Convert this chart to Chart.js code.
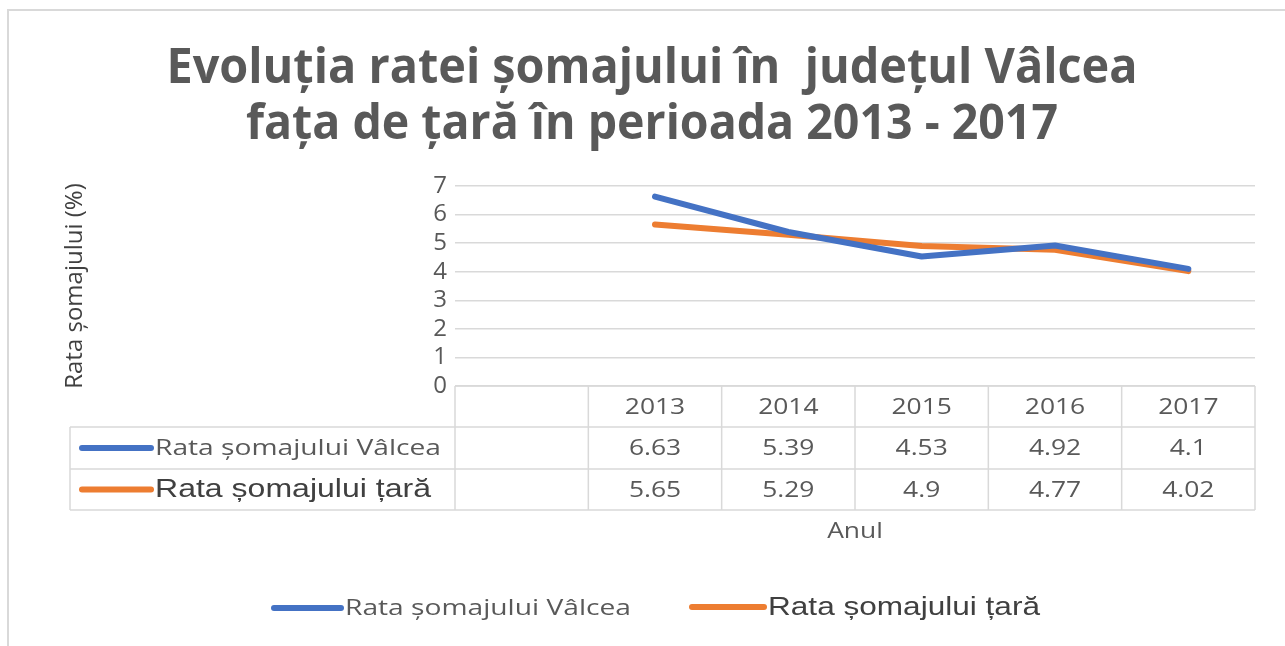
<!DOCTYPE html>
<html>
<head>
<meta charset="utf-8">
<script src="https://cdn.jsdelivr.net/npm/chart.js@4.4.0/dist/chart.umd.min.js"></script>
<style>
    html, body { margin: 0; padding: 0; background: #fff; overflow: hidden; }
    #wrap { width: 1285px; height: 646px; }
</style>
</head>
<body>
<div id="wrap"><canvas id="somajChart" width="1285" height="646"></canvas></div>
<script>
// ========== DATE ==========
const categorii = ['', '2013', '2014', '2015', '2016', '2017'];
const rataValcea = [null, 6.63, 5.39, 4.53, 4.92, 4.1];
const rataTara = [null, 5.65, 5.29, 4.9, 4.77, 4.02];
const titluRanduri = ['Evoluția ratei șomajului în  județul Vâlcea', 'fața de țară în perioada 2013 - 2017'];
const etichetaY = 'Rata șomajului (%)';
const etichetaX = 'Anul';

const ALBASTRU = '#4472c4';
const PORTOCALIU = '#ed7d31';
const GRI_TEXT = '#595959';
const GRI_LINIE = '#d9d9d9';
const FONT = '"Open Sans", sans-serif';
const FONT_ARIAL = '"Liberation Sans", Arial, sans-serif';

// scrie text intins pe orizontala (sx) sau pana la o latime data (w)
function scrieText(ctx, text, x, y, align, sx, w) {
    if (w) sx = w / ctx.measureText(text).width;
    ctx.save();
    ctx.translate(x, y);
    ctx.scale(sx, 1);
    ctx.textAlign = align;
    ctx.fillText(text, 0, 0);
    ctx.restore();
}

// titlu + chenar + tabel de date + legenda (desenate in jurul chartArea)
const tabelPlugin = {
    id: 'tabelDate',
    beforeDraw(chart) {
        const ctx = chart.ctx;
        ctx.save();
        ctx.strokeStyle = GRI_LINIE;
        ctx.lineWidth = 2;
        ctx.strokeRect(8, 10, 1400, 800);
        ctx.restore();
    },
    afterDraw(chart) {
        const ctx = chart.ctx;
        const area = chart.chartArea;
        const x = chart.scales.x;
        const seturi = chart.data.datasets;

        ctx.save();

        // titlu, stil Calibri bold
        ctx.fillStyle = GRI_TEXT;
        ctx.font = 'bold 48px ' + FONT;
        ctx.textBaseline = 'alphabetic';
        scrieText(ctx, titluRanduri[0], 652, 83, 'center', 1, 971);
        scrieText(ctx, titluRanduri[1], 652, 139, 'center', 1, 812);

        // tabel
        const pas = x.getPixelForValue(1) - x.getPixelForValue(0);
        const granite = categorii.map((_, i) => x.getPixelForValue(i) - pas / 2);
        granite.push(x.getPixelForValue(categorii.length - 1) + pas / 2);
        const stangaTabel = 70;
        const randuri = [area.bottom, area.bottom + 41, area.bottom + 83, area.bottom + 124];

        ctx.strokeStyle = GRI_LINIE;
        ctx.lineWidth = 1.5;
        ctx.beginPath();
        ctx.moveTo(area.left, randuri[0]);
        ctx.lineTo(area.right, randuri[0]);
        for (let r = 1; r < randuri.length; r++) {
            ctx.moveTo(stangaTabel, randuri[r]);
            ctx.lineTo(area.right, randuri[r]);
        }
        ctx.moveTo(stangaTabel, randuri[1]);
        ctx.lineTo(stangaTabel, randuri[3]);
        granite.forEach(gx => {
            ctx.moveTo(gx, randuri[0]);
            ctx.lineTo(gx, randuri[3]);
        });
        ctx.stroke();

        ctx.fillStyle = GRI_TEXT;
        ctx.font = '22px ' + FONT;
        ctx.textBaseline = 'middle';
        categorii.forEach((c, i) => {
            scrieText(ctx, c, x.getPixelForValue(i), (randuri[0] + randuri[1]) / 2 + 1, 'center', 1.2);
        });
        seturi.forEach((ds, s) => {
            const cy = (randuri[s + 1] + randuri[s + 2]) / 2 + 1;
            ds.data.forEach((v, i) => {
                if (v === null) return;
                scrieText(ctx, String(v), x.getPixelForValue(i), cy, 'center', 1.2);
            });
        });

        // chei serii in tabel + legenda de jos
        const fonturiSerii = ['22px ' + FONT, '25px ' + FONT_ARIAL];
        const culoriText = [GRI_TEXT, '#404040'];
        const desenCheie = (ds, s, x0, x1, y, w) => {
            ctx.strokeStyle = ds.borderColor;
            ctx.lineWidth = 6;
            ctx.lineCap = 'round';
            ctx.beginPath();
            ctx.moveTo(x0, y);
            ctx.lineTo(x1, y);
            ctx.stroke();
            ctx.fillStyle = culoriText[s];
            ctx.font = fonturiSerii[s];
            ctx.textBaseline = 'middle';
            scrieText(ctx, ds.label, x1 + 4, y + 1, 'left', 1, w);
        };
        desenCheie(seturi[0], 0, 82, 151, (randuri[1] + randuri[2]) / 2, 286);
        desenCheie(seturi[1], 1, 82, 151, (randuri[2] + randuri[3]) / 2, 276);
        desenCheie(seturi[0], 0, 274, 341, 608, 286);
        desenCheie(seturi[1], 1, 692, 764, 607, 272);

        // titlu axa X
        ctx.fillStyle = GRI_TEXT;
        ctx.font = '22px ' + FONT;
        ctx.textBaseline = 'middle';
        scrieText(ctx, etichetaX, (area.left + area.right) / 2, 532, 'center', 1.2);

        ctx.restore();
    }
};

let somajChart = null;

function createSomajChart() {
    try {
        const ctx = document.getElementById('somajChart').getContext('2d');
        if (somajChart) somajChart.destroy();

        somajChart = new Chart(ctx, {
            type: 'line',
            data: {
                labels: categorii,
                datasets: [
                    {
                        label: 'Rata șomajului Vâlcea',
                        data: rataValcea,
                        borderColor: ALBASTRU,
                        backgroundColor: ALBASTRU,
                        borderWidth: 6,
                        pointRadius: 0,
                        tension: 0,
                        borderJoinStyle: 'round',
                        borderCapStyle: 'round'
                    },
                    {
                        label: 'Rata șomajului țară',
                        data: rataTara,
                        borderColor: PORTOCALIU,
                        backgroundColor: PORTOCALIU,
                        borderWidth: 6,
                        pointRadius: 0,
                        tension: 0,
                        borderJoinStyle: 'round',
                        borderCapStyle: 'round'
                    }
                ]
            },
            options: {
                responsive: false,
                animation: false,
                layout: { padding: { top: 186, bottom: 260, left: 0, right: 30 } },
                plugins: {
                    legend: { display: false },
                    title: { display: false },
                    tooltip: { enabled: false }
                },
                scales: {
                    x: {
                        display: false,
                        offset: true
                    },
                    y: {
                        min: 0,
                        max: 7,
                        ticks: {
                            stepSize: 1,
                            autoSkip: false,
                            padding: 8,
                            color: GRI_TEXT,
                            font: { family: FONT, size: 24, lineHeight: 1 }
                        },
                        grid: { color: GRI_LINIE, lineWidth: 1.5, drawTicks: false },
                        border: { display: false },
                        title: {
                            display: true,
                            text: etichetaY,
                            color: '#404040',
                            font: { family: FONT, size: 24 },
                            padding: { top: 61, bottom: 0 }
                        },
                        afterFit: scale => { scale.width = 455; }
                    }
                }
            },
            plugins: [tabelPlugin]
        });
    } catch (error) {
        console.error('Eroare la desenarea graficului:', error);
    }
}

createSomajChart();
</script>
</body>
</html>
